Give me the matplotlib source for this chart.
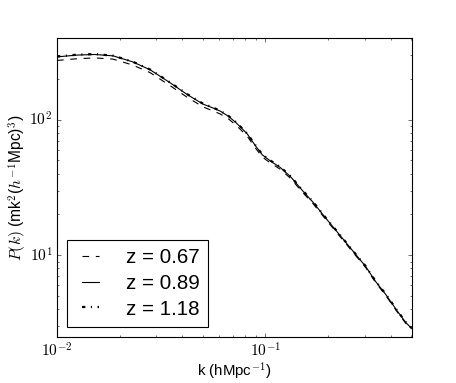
import math
import matplotlib
matplotlib.use('Agg')
import matplotlib.pyplot as plt
from matplotlib.ticker import FuncFormatter

plt.style.use('classic')
plt.rcParams['font.family'] = ['Liberation Sans', 'DejaVu Sans']
plt.rcParams['mathtext.fontset'] = 'cm'

# wavenumber k (h/Mpc)
k = [0.0100, 0.0125, 0.0152, 0.0186, 0.0230, 0.0280, 0.0349, 0.0422, 0.0503,
     0.0560, 0.0608, 0.0664, 0.0718, 0.0770, 0.0819, 0.0895, 0.0968, 0.1057,
     0.118, 0.132, 0.152, 0.170, 0.194, 0.222, 0.248, 0.271, 0.303, 0.338,
     0.378, 0.431, 0.472, 0.503]

# P(k) for each redshift
pk_067 = [273, 281, 285, 279, 253, 222, 178, 146, 124, 116, 110, 101.5, 92,
          83, 75.5, 62, 53, 48, 43.1, 37.0, 28.8, 23.9, 18.6, 14.5, 11.8,
          10.0, 8.15, 6.33, 5.08, 3.81, 3.16, 2.86]
pk_089 = [290, 299, 302, 295, 267, 233, 187, 153, 130, 122, 115.5, 106, 96,
          86.5, 78.5, 64.5, 55, 49.6, 44.4, 38.1, 29.6, 24.5, 19.0, 14.8,
          12.05, 10.2, 8.30, 6.44, 5.17, 3.87, 3.21, 2.90]
pk_118 = [292, 301, 304, 296, 268, 234, 188, 154, 131, 123, 116, 106.8, 96.8,
          87, 79, 65, 55.4, 50, 44.8, 38.4, 29.8, 24.7, 19.1, 14.9, 12.1,
          10.25, 8.35, 6.47, 5.2, 3.9, 3.23, 2.92]

labels = ['z = 0.67', 'z = 0.89', 'z = 1.18']

fig = plt.figure(figsize=(5.7, 4.7875), dpi=80, facecolor='white')
ax = fig.add_subplot(111)
fig.subplots_adjust(left=0.125, right=0.903, bottom=0.12, top=0.901)

ax.plot(k, pk_067, 'k--', lw=1.0, label=labels[0])
ax.plot(k, pk_089, 'k-', lw=1.0, label=labels[1])
ax.plot(k, pk_118, 'k-.', lw=2.0, label=labels[2])

ax.set_xscale('log')
ax.set_yscale('log')
ax.set_xlim(0.01, 0.505)
ax.set_ylim(2.5, 400)

fmt = FuncFormatter(lambda v, p: r'$10^{%d}$' % round(math.log10(v)))
ax.xaxis.set_major_formatter(fmt)
ax.yaxis.set_major_formatter(fmt)
ax.tick_params(which='major', labelsize=14)

ax.set_xlabel(r'k (hMpc$^{-1}$)', fontsize=13.5, labelpad=1)
ax.set_ylabel(r'$P(k)$ (mk$^2$($h^{-1}$Mpc)$^3$)', fontsize=14, labelpad=0)

leg = ax.legend(loc='lower left', fontsize=18.5, handlelength=1.45,
                handletextpad=1.0, labelspacing=0.32, borderpad=0.4,
                borderaxespad=0.5, frameon=True, fancybox=False)
leg.get_frame().set_edgecolor('black')

fig.savefig('out.png', dpi=80, facecolor='white')
